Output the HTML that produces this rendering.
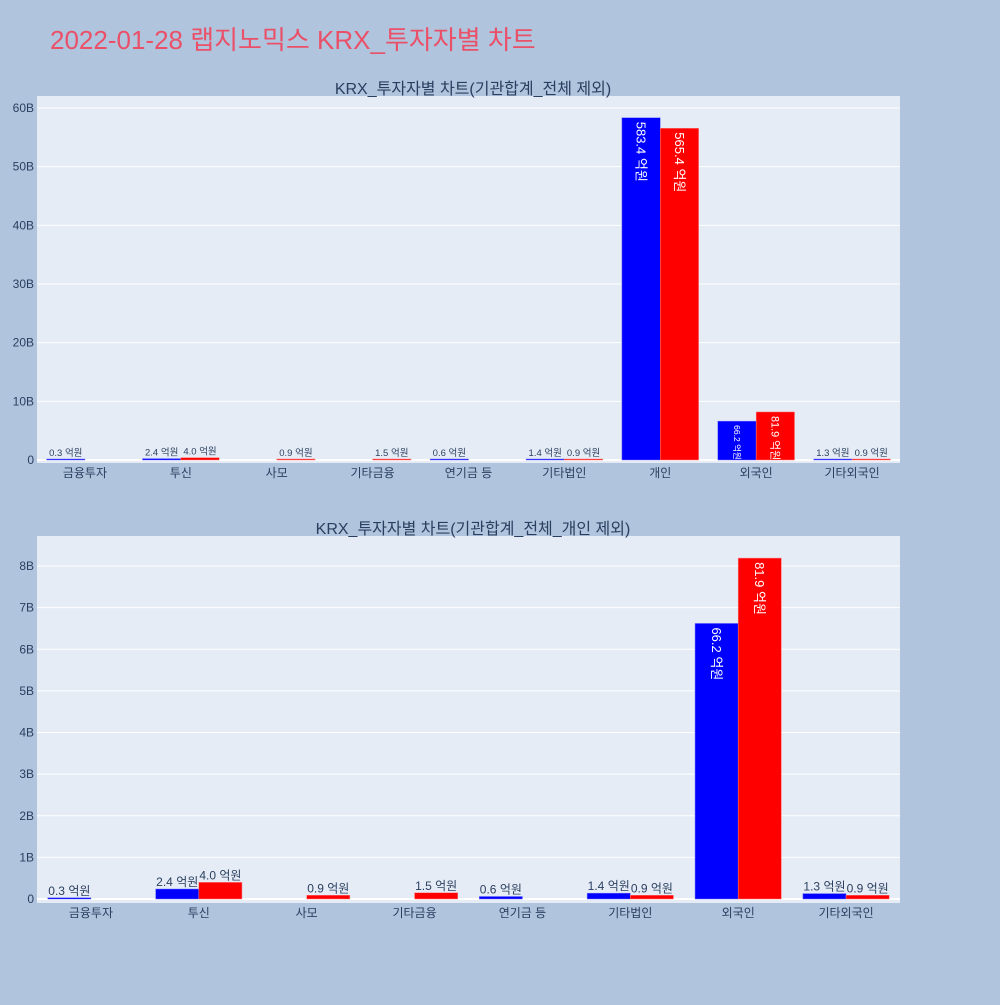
<!DOCTYPE html>
<html><head><meta charset="utf-8"><style>
body{margin:0;background:#b0c4de;font-family:"Liberation Sans","Noto Sans CJK KR",sans-serif;}
svg text{font-family:"Liberation Sans","Noto Sans CJK KR",sans-serif;}
</style></head><body>
<svg id="s" width="1000" height="1000" xmlns="http://www.w3.org/2000/svg">
<rect width="1000" height="1000" fill="#b0c4de"/>
<text x="50" y="49" font-size="26" fill="#ea5068">2022-01-28 랩지노믹스 KRX_투자자별 차트</text>
</svg>
<script>
const cats1=["금융투자","투신","사모","기타금융","연기금 등","기타법인","개인","외국인","기타외국인"];
const blue1=[0.3,2.4,null,null,0.6,1.4,583.4,66.2,1.3];
const red1=[null,4.0,0.9,1.5,null,0.9,565.4,81.9,0.9];
const ticks1=["0","10B","20B","30B","40B","50B","60B"];
const cats2=["금융투자","투신","사모","기타금융","연기금 등","기타법인","외국인","기타외국인"];
const blue2=[0.3,2.4,null,null,0.6,1.4,66.2,1.3];
const red2=[null,4.0,0.9,1.5,null,0.9,81.9,0.9];
const ticks2=["0","1B","2B","3B","4B","5B","6B","7B","8B"];
const NS="http://www.w3.org/2000/svg";
const svg=document.getElementById('s');
function mk(tag,at,parent){const e=document.createElementNS(NS,tag);for(const k in at)e.setAttribute(k,at[k]);(parent||svg).appendChild(e);return e;}
function chart(id,title,cats,blue,red,ticks,tickStep,top,bot,zeroY,maxTickY,outFs){
  const g=mk('g',{});
  
  
  const x0=37,x1=900;
  const bg=mk('rect',{x:x0,y:top,width:x1-x0,height:bot-top,fill:'#e5ecf6'},g);
  
  
  const tt=mk('text',{x:473,y:top-2,'font-size':16,fill:'#2a3f5f','text-anchor':'middle'},g);
  tt.textContent=title;
  
  
  const pxPer=(zeroY-maxTickY)/((ticks.length-1)*tickStep); // px per 억
  const yOf=v=>zeroY-v*pxPer;
  ticks.forEach((t,i)=>{
    const y=yOf(i*tickStep);
    mk('line',{x1:x0,x2:x1,y1:y,y2:y,stroke:'#fff','stroke-width':i==0?2:1},g);
    const tx=mk('text',{x:x0-3,y:y+4,'font-size':12,fill:'#2a3f5f','text-anchor':'end'},g);
    tx.textContent=t;
    
    
  });
  const cw=(x1-x0)/cats.length,bw=cw*0.8/2;
  cats.forEach((c,i)=>{
    const cx=x0+cw*(i+0.5);
    const lt=mk('text',{x:cx,y:bot+14,'font-size':12,fill:'#2a3f5f','text-anchor':'middle'},g);
    lt.textContent=c;
    
    
    [[blue[i],'#0000ff',cx-bw],[red[i],'#ff0000',cx]].forEach(([v,col,bx])=>{
      if(v==null)return;
      const h=Math.max(v*pxPer,1);
      const r=mk('rect',{x:bx,y:zeroY-h,width:bw,height:h,fill:col,stroke:col=='#0000ff'?'#6f6fff':'#ff8080','stroke-width':0.5},g);
      
      
      const lbl=v.toFixed(1)+' 억원';
      const txtLen=lbl.length*6.6;
      let t;
      if(h>txtLen*0.55+8){
        let fs=13; if(fs*txtLen/12>h-6) fs=Math.max(7,12*(h-6)/txtLen);
        const tx=bx+bw/2, ty=zeroY-h+4;
        t=mk('text',{x:tx,y:ty,'font-size':fs.toFixed(1),fill:'#fff','text-anchor':'start',transform:`rotate(90 ${tx} ${ty}) translate(0 ${fs*0.35})`},g);
      }else{
        t=mk('text',{x:bx+bw/2,y:zeroY-h-3,'font-size':outFs,fill:'#2a3f5f','text-anchor':'middle'},g);
      }
      t.textContent=lbl;
      
      
    });
  });
}
chart('chart-top','KRX_투자자별 차트(기관합계_전체 제외)',cats1,blue1,red1,ticks1,100,96,463,460,108,9.5);
chart('chart-bottom','KRX_투자자별 차트(기관합계_전체_개인 제외)',cats2,blue2,red2,ticks2,10,536,903,899,566,12);
</script>
</body></html>
